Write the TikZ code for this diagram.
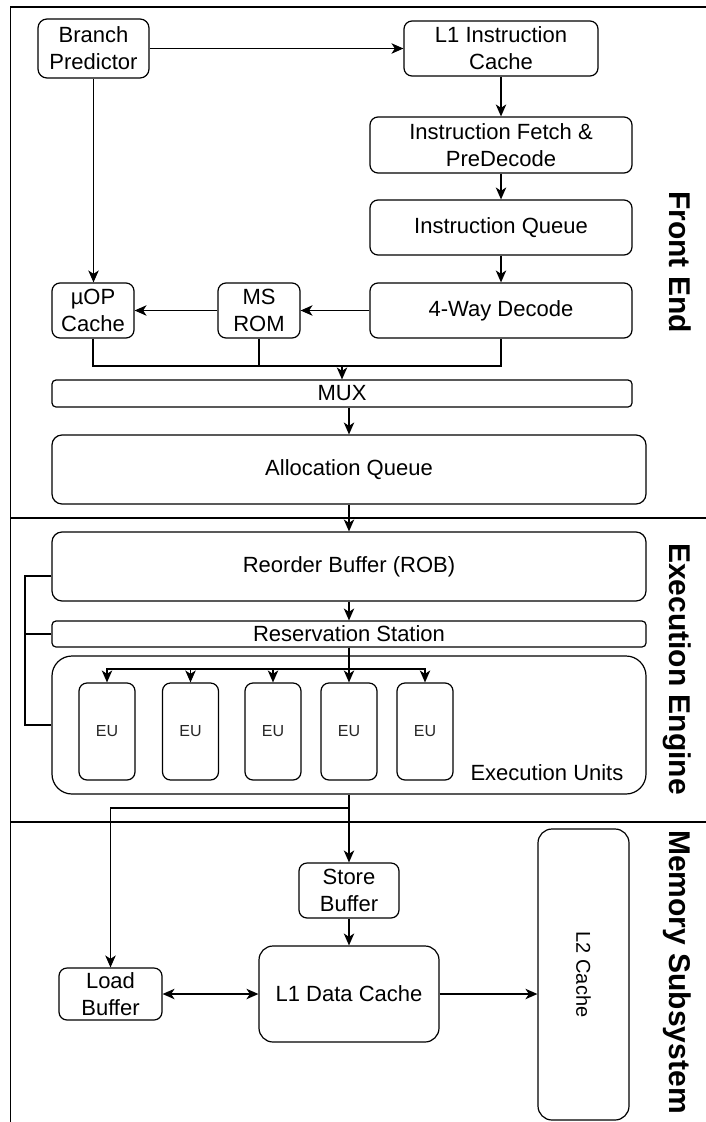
\documentclass[tikz,border=0pt]{standalone}
\usepackage{fontspec}
\setmainfont{Liberation Sans}
\usetikzlibrary{arrows.meta,calc}

\begin{document}
\begin{tikzpicture}[x=1pt,y=-1pt,
  line width=1.2pt,
  blk/.style={draw, line width=1.2pt, inner sep=0pt, align=center,
              font=\fontsize{22}{27}\selectfont},
  eubox/.style={blk, minimum width=56pt, minimum height=97pt, rounded corners=8pt,
                font=\fontsize{16}{19}\selectfont, text=black!85},
  sec/.style={font=\bfseries\fontsize{30}{36}\selectfont, rotate=-90, anchor=base, inner sep=0pt},
  arr/.style={-{Stealth[length=12pt,width=10.5pt,inset=3.5pt]}},
  biarr/.style={{Stealth[length=12pt,width=10.5pt,inset=3.5pt]}-{Stealth[length=12pt,width=10.5pt,inset=3.5pt]}},
  ]
\useasboundingbox (0,0) rectangle (706,1122);

% section frame
\draw (706,7) -- (10.5,7) -- (10.5,1122);
\draw (10.5,518) -- (706,518);
\draw (10.5,822) -- (706,822);

% front end
\node[blk, minimum width=111pt, minimum height=59pt, rounded corners=9pt] (bp) at (93.5,48.5) {Branch\\Predictor};
\node[blk, minimum width=194pt, minimum height=55pt, rounded corners=8pt] (l1i) at (501,48.5) {L1 Instruction\\Cache};
\node[blk, minimum width=262pt, minimum height=56pt, rounded corners=8pt] (ifd) at (501,145) {Instruction Fetch \&\\PreDecode};
\node[blk, minimum width=262pt, minimum height=55pt, rounded corners=8pt] (iq) at (501,227.5) {Instruction Queue};
\node[blk, minimum width=262pt, minimum height=55pt, rounded corners=8pt] (dec) at (501,310.5) {4-Way Decode};
\node[blk, minimum width=82pt, minimum height=55pt, rounded corners=8pt] (ms) at (259,310.5) {MS\\ROM};
\node[blk, minimum width=82pt, minimum height=55pt, rounded corners=8pt] (uop) at (93,310.5) {µOP\\Cache};
\node[blk, minimum width=580pt, minimum height=27pt, rounded corners=4pt] (mux) at (342,393.5) {MUX};
\node[blk, minimum width=594pt, minimum height=69pt, rounded corners=10pt] (alloc) at (349,469.5) {Allocation Queue};

% execution engine
\node[blk, minimum width=594pt, minimum height=69pt, rounded corners=10pt] (rob) at (349,566.5) {Reorder Buffer (ROB)};
\node[blk, minimum width=594pt, minimum height=26pt, rounded corners=4pt] (rs) at (349,634) {Reservation Station};
\node[blk, minimum width=594pt, minimum height=138pt, rounded corners=20pt] (eus) at (349,725) {};
\node[eubox] (eu1) at (107,731.5) {EU};
\node[eubox] (eu2) at (190.5,731.5) {EU};
\node[eubox] (eu3) at (273,731.5) {EU};
\node[eubox] (eu4) at (349,731.5) {EU};
\node[eubox] (eu5) at (425,731.5) {EU};
\node[font=\fontsize{22}{27}\selectfont, anchor=east, inner sep=0pt] (eul) at (624,773) {Execution Units};

% memory subsystem
\node[blk, minimum width=100pt, minimum height=55pt, rounded corners=8pt] (stb) at (349,890.5) {Store\\Buffer};
\node[blk, minimum width=180pt, minimum height=96pt, rounded corners=14pt] (l1d) at (349,994) {L1 Data Cache};
\node[blk, minimum width=103pt, minimum height=52pt, rounded corners=8pt] (ldb) at (110.5,994) {Load\\Buffer};
\node[blk, minimum width=91pt, minimum height=291pt, rounded corners=14pt] (l2) at (583.5,974.5) {};
\node[rotate=-90, inner sep=0pt, font=\fontsize{20}{24}\selectfont] (l2t) at (l2.center) {L2 Cache};

% section titles
\node[sec] (fe) at (669,262) {Front End};
\node[sec] (ee) at (669,669) {Execution Engine};
\node[sec] (mss) at (669,972) {Memory Subsystem};

% front end connections
\draw[arr] (bp) -- (l1i);
\draw[arr] (bp.south) -- (bp.south |- uop.north);
\draw[arr] (l1i) -- (ifd);
\draw[arr] (ifd) -- (iq);
\draw[arr] (iq) -- (dec);
\draw[arr] (dec) -- (ms);
\draw[arr] (ms) -- (uop);
\coordinate (mj) at (342,366);
\draw (uop.south) |- (mj) -| (dec.south);
\draw (ms.south) -- (ms.south |- mj);
\draw[arr] (mj) -- (mux.north);
\draw[arr] (mux.south -| alloc.north) -- (alloc.north);
\draw[arr] (alloc) -- (rob);

% execution engine connections
\draw[arr] (rob) -- (rs);
\coordinate (bus) at (349,669);
\foreach \i in {1,...,5} \draw[arr] (rs.south) -- (bus) -| (eu\i.north);
\coordinate (fb) at (25,0);
\draw ([yshift=-9.5pt]rob.west) -| (fb |- eus.west) -- (eus.west);
\draw (rs.west) -- (fb |- rs.west);

% memory connections
\coordinate (sp) at (349,808);
\draw[arr] (eus.south) -- (stb.north);
\draw[arr] (sp) -| (ldb.north);
\draw[arr] (stb) -- (l1d);
\draw[biarr] (ldb) -- (l1d);
\draw[arr] (l1d) -- (l2.west |- l1d.east);
\end{tikzpicture}
\end{document}
